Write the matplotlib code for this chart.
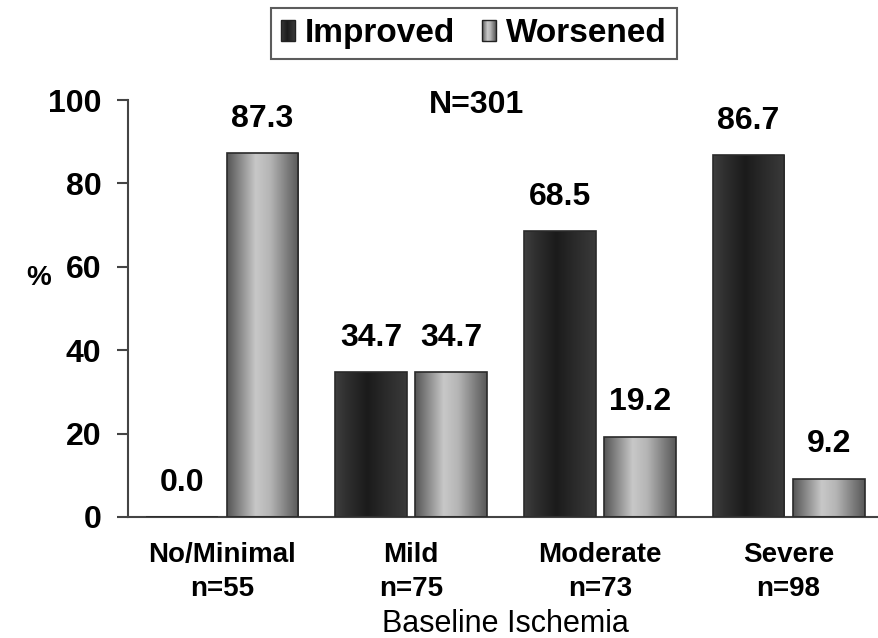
import numpy as np
import matplotlib
matplotlib.use("Agg")
import matplotlib.pyplot as plt
from matplotlib.colors import LinearSegmentedColormap
from matplotlib.patches import Rectangle
from matplotlib.legend_handler import HandlerBase

# Data
categories = ["No/Minimal", "Mild", "Moderate", "Severe"]
group_sizes = [55, 75, 73, 98]
improved = [0.0, 34.7, 68.5, 86.7]
worsened = [87.3, 34.7, 19.2, 9.2]
series_names = ["Improved", "Worsened"]
total_n = 301
yticks = [0, 20, 40, 60, 80, 100]

plt.rcParams['font.family'] = ['Liberation Sans', 'DejaVu Sans']

# Cylinder-like horizontal shading for the two series
dark_cmap = LinearSegmentedColormap.from_list(
    "dark", [(0, "#3e3e3e"), (0.2, "#2c2c2c"), (0.45, "#1b1b1b"),
             (0.7, "#2a2a2a"), (1, "#3a3a3a")])
grey_cmap = LinearSegmentedColormap.from_list(
    "grey", [(0, "#555555"), (0.15, "#808080"), (0.4, "#c8c8c8"),
             (0.6, "#b5b5b5"), (0.85, "#7a7a7a"), (1, "#585858")])


class GradientHandler(HandlerBase):
    def __init__(self, cmap, n=14):
        super().__init__()
        self.cmap = cmap
        self.n = n

    def create_artists(self, legend, orig_handle, xdescent, ydescent,
                       width, height, fontsize, trans):
        arts = []
        step = width / self.n
        for i in range(self.n):
            r = Rectangle((-xdescent + i * step, -ydescent), step * 1.05, height,
                          facecolor=self.cmap((i + 0.5) / self.n),
                          edgecolor='none', transform=trans)
            arts.append(r)
        outline = Rectangle((-xdescent, -ydescent), width, height,
                            facecolor='none', edgecolor='#222222', lw=1.0,
                            transform=trans)
        arts.append(outline)
        return arts


fig = plt.figure(figsize=(8.79, 6.38), dpi=100)
ax = fig.add_axes([128 / 879, 1 - 517 / 638, 755 / 879, 417 / 638])

x = np.arange(len(categories))
width = 0.38
offset = 0.212

bars_imp = ax.bar(x - offset, improved, width, facecolor='none',
                  edgecolor='#2a2a2a', linewidth=1.2, zorder=3)
bars_wor = ax.bar(x + offset, worsened, width, facecolor='none',
                  edgecolor='#2a2a2a', linewidth=1.2, zorder=3)

grad = np.linspace(0, 1, 256).reshape(1, -1)
for bars, cmap in ((bars_imp, dark_cmap), (bars_wor, grey_cmap)):
    for b in bars:
        h = b.get_height()
        if h <= 0:
            continue
        x0, y0, w = b.get_x(), b.get_y(), b.get_width()
        im = ax.imshow(grad, cmap=cmap, extent=(x0, x0 + w, y0, y0 + h),
                       aspect='auto', interpolation='bicubic', zorder=2)
        im.set_clip_path(b)

# Value labels
for bars, vals in ((bars_imp, improved), (bars_wor, worsened)):
    for b, v in zip(bars, vals):
        ax.annotate(f"{v:.1f}", (b.get_x() + b.get_width() / 2, v),
                    xytext=(0, 14), textcoords='offset points',
                    ha='center', va='bottom', fontsize=23, fontweight='bold')

ax.text(1.346, 98.8, f"N={total_n}", ha='center', va='center',
        fontsize=23, fontweight='bold')

ax.set_xlim(-0.5, 3.5)
ax.set_ylim(0, 100)
ax.set_yticks(yticks)
ax.set_yticklabels([str(t) for t in yticks], fontsize=23, fontweight='bold')
ax.set_xticks(x)
ax.set_xticklabels([f"{c}\nn={n}" for c, n in zip(categories, group_sizes)],
                   fontsize=20, fontweight='bold', linespacing=1.42)

for s in ('top', 'right'):
    ax.spines[s].set_visible(False)
for s in ('left', 'bottom'):
    ax.spines[s].set_color('#444444')
    ax.spines[s].set_linewidth(1.5)

ax.tick_params(axis='y', direction='out', length=8, width=1.5,
               color='#444444', pad=11)
ax.tick_params(axis='x', length=0, pad=18)

ax.set_ylabel('%', rotation=0, fontsize=20, fontweight='bold',
              va='center', ha='center')
ax.yaxis.set_label_coords(-0.118, 0.574)
ax.set_xlabel('Baseline Ischemia', fontsize=22, labelpad=5)

handles = [Rectangle((0, 0), 1, 1), Rectangle((0, 0), 1, 1)]
leg = fig.legend(handles, series_names, loc='upper center',
                 bbox_to_anchor=(474 / 879, 1 - 8 / 638), ncol=2,
                 prop={'size': 24, 'weight': 'bold'},
                 handler_map={handles[0]: GradientHandler(dark_cmap),
                              handles[1]: GradientHandler(grey_cmap)},
                 handlelength=0.42, handleheight=0.6, handletextpad=0.3,
                 columnspacing=0.8, borderpad=0.3, borderaxespad=0,
                 fancybox=False, frameon=True, edgecolor='#333333')
leg.get_frame().set_linewidth(1.5)

fig.savefig('out.png', dpi=100)
